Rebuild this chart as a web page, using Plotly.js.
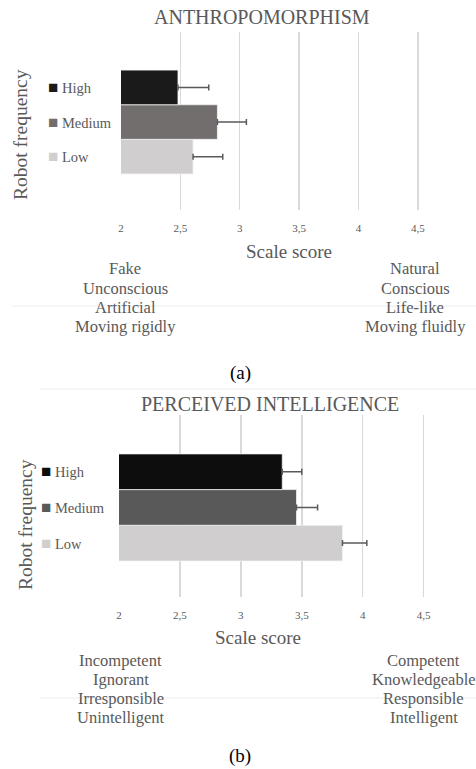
<!DOCTYPE html>
<html><head><meta charset="utf-8">
<script src="https://cdn.plot.ly/plotly-3.0.1.min.js"></script>
<style>html,body{margin:0;padding:0;background:#fff}#chart{width:476px;height:769px}</style>
</head><body><div id="chart"></div>
<script>
// ---- data ----
const categories = ['Low', 'Medium', 'High'];           // bottom to top
const anthroMeans = [2.607, 2.812, 2.48];
const anthroErrPlus = [0.25, 0.244, 0.259];
const intelMeans = [3.834, 3.457, 3.34];
const intelErrPlus = [0.2, 0.173, 0.16];
const xTickVals = [2, 2.5, 3, 3.5, 4, 4.5];
const anthroLeft = ['Fake', 'Unconscious', 'Artificial', 'Moving rigidly'];
const anthroRight = ['Natural', 'Conscious', 'Life-like', 'Moving fluidly'];
const intelLeft = ['Incompetent', 'Ignorant', 'Irresponsible', 'Unintelligent'];
const intelRight = ['Competent', 'Knowledgeable', 'Responsible', 'Intelligent'];
const panelTitles = ['ANTHROPOMORPHISM', 'PERCEIVED INTELLIGENCE'];
const captions = ['(a)', '(b)'];
const xTitle = 'Scale score';
const yTitle = 'Robot frequency';

// ---- styles ----
const W = 476, H = 769;
const SERIF = 'Liberation Serif, Times New Roman, serif';
const GRAY = '#595959';
const anthroColors = ['#d0cece', '#726e6e', '#1a1a1a'];
const intelColors = ['#d0cece', '#595959', '#0d0d0d'];
const px = x => x / W;
const py = y => 1 - y / H;
const yPos = categories.map((c, i) => i);

function barTrace(means, errs, colors, xa, ya) {
  return {
    type: 'bar', orientation: 'h', x: means, y: yPos, width: 1,
    xaxis: xa, yaxis: ya,
    marker: {color: colors, line: {color: '#f2f2f2', width: 0.8}},
    error_x: {type: 'data', symmetric: false, array: errs, arrayminus: errs.map(() => 0),
              color: GRAY, thickness: 1.5, width: 3},
    hoverinfo: 'x+y', showlegend: false
  };
}

const traces = [
  barTrace(anthroMeans, anthroErrPlus, anthroColors, 'x', 'y'),
  barTrace(intelMeans, intelErrPlus, intelColors, 'x2', 'y2')
];

function xAxis(domain, range, anchor) {
  return {
    domain: domain, range: range, anchor: anchor,
    tickvals: xTickVals, ticks: '', showline: false, zeroline: false,
    showgrid: true, gridcolor: '#d9d9d9', gridwidth: 1.5,
    tickfont: {family: SERIF, size: 11, color: GRAY},
    ticklabelstandoff: 10, fixedrange: true
  };
}
function yAxis(domain, range, anchor) {
  return {
    domain: domain, range: range, anchor: anchor,
    showticklabels: false, ticks: '', showgrid: false, zeroline: false, showline: false,
    fixedrange: true
  };
}

const annotations = [];
function txt(text, x, y, size, color, extra) {
  annotations.push(Object.assign({
    text: text, x: px(x), y: py(y), xref: 'paper', yref: 'paper',
    xanchor: 'center', yanchor: 'middle', showarrow: false,
    font: {family: SERIF, size: size, color: color}
  }, extra || {}));
}

// panel (a)
txt(panelTitles[0], 262, 17, 20, GRAY);
txt(xTitle, 289, 251, 19, GRAY);
txt(yTitle, 20, 135, 19.5, GRAY, {textangle: -90});
anthroLeft.forEach((w, i) => txt(w, 125, 269 + i * 19.3, 16.5, GRAY));
anthroRight.forEach((w, i) => txt(w, 415, 269 + i * 19.3, 16.5, GRAY));
txt(captions[0], 240, 373, 19, '#000');
// panel (b)
txt(panelTitles[1], 270, 404, 20, GRAY);
txt(xTitle, 258, 637, 19, GRAY);
txt(yTitle, 25, 525, 19.5, GRAY, {textangle: -90});
intelLeft.forEach((w, i) => txt(w, 120.5, 660 + i * 19.3, 16.5, GRAY));
intelRight.forEach((w, i) => txt(w, 423.5, 660 + i * 19.3, 16.5, GRAY));
txt(captions[1], 240, 756, 19, '#000');

// category labels with coloured squares (legend-like)
function catLabels(colors, yref, xLeft) {
  categories.forEach((c, i) => {
    annotations.push({
      text: '<span style="color:' + colors[i] + ';font-size:17px">■</span> ' + c,
      x: px(xLeft), y: yPos[i], xref: 'paper', yref: yref,
      xanchor: 'left', yanchor: 'middle', showarrow: false,
      font: {family: SERIF, size: 14.5, color: GRAY}
    });
  });
}
catLabels(anthroColors, 'y', 46);
catLabels(intelColors, 'y2', 39);

const sepLine = (x0, y) => ({type: 'line', xref: 'paper', yref: 'paper',
  x0: px(x0), x1: 1, y0: py(y), y1: py(y), line: {color: '#ececec', width: 1}});

const layout = {
  width: W, height: H, margin: {l: 0, r: 0, t: 0, b: 0},
  paper_bgcolor: '#fff', plot_bgcolor: 'rgba(0,0,0,0)',
  separators: ',.', showlegend: false,
  xaxis: xAxis([px(121), 1], [2, 4.99], 'y'),
  yaxis: yAxis([py(210), py(32)], [-1.54, 3.6], 'x'),
  xaxis2: xAxis([px(119), 1], [2, 4.93], 'y2'),
  yaxis2: yAxis([py(597), py(415)], [-1.51, 3.59], 'x2'),
  annotations: annotations,
  shapes: [sepLine(12, 306), sepLine(40, 389), sepLine(40, 698)]
};

Plotly.newPlot('chart', traces, layout, {displayModeBar: false, staticPlot: true});
</script></body></html>
